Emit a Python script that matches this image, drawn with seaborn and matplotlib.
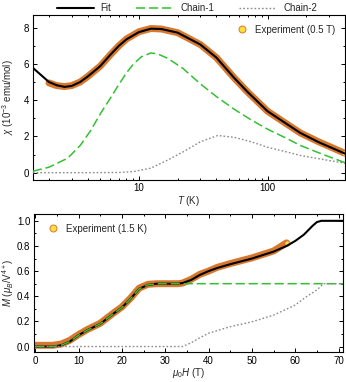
import numpy as np
import pandas as pd
import seaborn as sns
import matplotlib.pyplot as plt
from matplotlib.lines import Line2D
from matplotlib.ticker import MultipleLocator, LogLocator, NullFormatter

# 磁化率 chi(T)
t_fit = [1.5, 2.0, 2.3, 2.64, 3.0, 3.5, 4.0, 5.0, 6.0, 7.0, 8.0, 10.0, 12.4, 15.0,
         20.0, 30.0, 40.0, 55.0, 70.0, 100.0, 140.0, 180.0, 250.0, 320.0, 400.0]
chi_fit = [5.78, 5.0, 4.82, 4.73, 4.78, 5.0, 5.3, 5.87, 6.5, 7.0, 7.35, 7.75, 7.94, 7.92,
           7.72, 7.07, 6.35, 5.23, 4.45, 3.39, 2.7, 2.19, 1.68, 1.35, 1.05]
t_c1 = [1.5, 2.0, 2.8, 3.5, 4.2, 5.07, 6.0, 6.83, 8.0, 9.1, 10.5, 12.4, 14.0, 16.8,
        22.0, 30.0, 40.0, 55.0, 75.0, 100.0, 140.0, 180.0, 260.0, 400.0]
chi_c1 = [0.08, 0.3, 0.8, 1.5, 2.3, 3.3, 4.1, 4.75, 5.5, 6.0, 6.4, 6.6, 6.55, 6.3,
          5.75, 4.9, 4.2, 3.5, 2.9, 2.4, 1.9, 1.5, 1.05, 0.55]
t_c2 = [1.5, 4.0, 7.0, 9.1, 12.4, 16.8, 22.8, 30.0, 41.0, 55.0, 75.0, 100.0, 140.0,
        180.0, 260.0, 400.0]
chi_c2 = [0.0, 0.0, 0.01, 0.06, 0.25, 0.7, 1.2, 1.7, 2.05, 1.95, 1.7, 1.4, 1.15,
          0.95, 0.75, 0.52]
t_exp = [2.0, 2.3, 2.64, 3.0, 3.5, 4.0, 5.0, 6.0, 7.0, 8.0, 10.0, 12.4, 15.0,
         20.0, 30.0, 40.0, 55.0, 70.0, 100.0, 140.0, 180.0, 250.0, 320.0, 390.0]
chi_exp = [4.95, 4.8, 4.75, 4.8, 5.0, 5.3, 5.87, 6.5, 7.0, 7.37, 7.77, 7.95, 7.92,
           7.72, 7.07, 6.35, 5.23, 4.45, 3.39, 2.7, 2.19, 1.7, 1.37, 1.1]

# 磁化 M(H)
h_fit = [0, 4, 6, 8, 10, 12, 15, 18, 20, 22, 24, 26, 28, 30, 33, 34, 36, 38, 40, 42,
         45, 50, 55, 58, 60, 62, 64, 65, 66, 68, 71]
m_fit = [0.0, 0.0, 0.01, 0.04, 0.09, 0.13, 0.18, 0.26, 0.31, 0.38, 0.46, 0.49, 0.5,
         0.5, 0.5, 0.505, 0.53, 0.57, 0.6, 0.625, 0.655, 0.70, 0.755, 0.80, 0.84,
         0.89, 0.96, 0.99, 1.0, 1.0, 1.0]
h_c1 = [0, 4, 6, 8, 10, 12, 15, 18, 20, 22, 24, 26, 28, 30, 71]
m_c1 = [0.0, 0.0, 0.01, 0.04, 0.09, 0.13, 0.18, 0.26, 0.31, 0.38, 0.46, 0.49, 0.5,
        0.5, 0.5]
h_c2 = [0, 34, 36, 38, 40, 45, 50, 55, 60, 62.3, 65, 66.5, 71]
m_c2 = [0.0, 0.0, 0.03, 0.07, 0.106, 0.158, 0.197, 0.25, 0.33, 0.39, 0.45, 0.5, 0.5]
h_exp = [0, 4, 6, 8, 10, 12, 15, 18, 20, 22, 24, 26, 28, 30, 33, 34, 36, 38, 40, 42,
         45, 50, 55, 58]
m_exp = [0.01, 0.01, 0.02, 0.05, 0.095, 0.135, 0.185, 0.265, 0.315, 0.385, 0.465,
         0.495, 0.5, 0.5, 0.5, 0.505, 0.535, 0.575, 0.6, 0.63, 0.66, 0.705, 0.76, 0.825]

sns.set_theme(style="ticks")
FS = 7
plt.rcParams['font.family'] = ['Liberation Sans', 'DejaVu Sans']
plt.rcParams['font.size'] = FS
plt.rcParams['axes.labelsize'] = FS
plt.rcParams['xtick.labelsize'] = FS
plt.rcParams['ytick.labelsize'] = FS
plt.rcParams['legend.fontsize'] = FS
plt.rcParams['mathtext.fontset'] = 'custom'
plt.rcParams['mathtext.rm'] = 'Liberation Sans'
plt.rcParams['mathtext.it'] = 'Liberation Sans:italic'

ORANGE = "#d8782e"
YELLOW = "#ffe040"
GREEN = "#33c033"
GRAY = "#8c8c8c"

fig = plt.figure(figsize=(3.46, 3.82), dpi=100)
ax1 = fig.add_axes([0.095, 0.529, 0.902, 0.432])
ax2 = fig.add_axes([0.098, 0.078, 0.893, 0.362])


def draw_panel(ax, xe, ye, xf, yf, x1, y1, x2, y2):
    sns.lineplot(x=xe, y=ye, ax=ax, color=ORANGE, lw=5.0, solid_capstyle="round", zorder=1)
    ax.scatter(xe[-1:], ye[-1:], s=14, color=YELLOW, edgecolor=ORANGE, lw=0.6, zorder=2)
    sns.lineplot(x=xf, y=yf, ax=ax, color="black", lw=1.5, zorder=3)
    sns.lineplot(x=x1, y=y1, ax=ax, color=GREEN, lw=1.1, dashes=(6, 2.5), zorder=4)
    sns.lineplot(x=x2, y=y2, ax=ax, color=GRAY, lw=1.0, dashes=(1.2, 1.5), zorder=5)
    ax.tick_params(which="both", direction="in", top=True, right=True, width=0.7,
                   labelsize=FS, pad=2.5, colors="black")
    ax.tick_params(which="major", length=3)
    ax.tick_params(which="minor", length=1.6)
    for s in ax.spines.values():
        s.set_linewidth(0.8)
        s.set_color("black")


draw_panel(ax1, t_exp, chi_exp, t_fit, chi_fit, t_c1, chi_c1, t_c2, chi_c2)
ax1.set_xscale("log")
ax1.set_xlim(1.5, 400)
ax1.set_ylim(-0.4, 8.7)
ax1.yaxis.set_major_locator(MultipleLocator(2))
ax1.yaxis.set_minor_locator(MultipleLocator(1))
ax1.xaxis.set_minor_locator(LogLocator(base=10, subs=np.arange(2, 10)))
ax1.xaxis.set_minor_formatter(NullFormatter())
ax1.set_xticks([10, 100])
ax1.set_xticklabels(["10", "100"])
ax1.set_xlabel(r"$T$ (K)", labelpad=0.5, fontsize=FS)
ax1.set_ylabel(r"$\chi$ (10$^{-3}$ emu/mol)", labelpad=6, fontsize=FS)

draw_panel(ax2, h_exp, m_exp, h_fit, m_fit, h_c1, m_c1, h_c2, m_c2)
ax2.set_xlim(-0.3, 71)
ax2.set_ylim(-0.045, 1.055)
ax2.xaxis.set_major_locator(MultipleLocator(10))
ax2.xaxis.set_minor_locator(MultipleLocator(5))
ax2.yaxis.set_major_locator(MultipleLocator(0.2))
ax2.yaxis.set_minor_locator(MultipleLocator(0.1))
ax2.yaxis.set_major_formatter(plt.FormatStrFormatter("%.1f"))
ax2.set_xlabel(r"$\mu_0H$ (T)", labelpad=0.5, fontsize=FS)
ax2.set_ylabel(r"$M$ ($\mu_B$/V$^{4+}$)", labelpad=1, fontsize=FS)

exp_handle = lambda lab: Line2D([], [], ls="none", marker="o", ms=5, mfc=YELLOW,
                                mec=ORANGE, mew=0.7, label=lab)
ax1.legend(handles=[exp_handle("Experiment (0.5 T)")], loc="upper right", frameon=False,
           handletextpad=0.3, borderaxespad=0.6, fontsize=FS)
ax2.legend(handles=[exp_handle("Experiment (1.5 K)")], loc="upper left", frameon=False,
           handletextpad=0.3, borderaxespad=0.6, fontsize=FS)

top_handles = [
    Line2D([], [], color="black", lw=1.5, label="Fit"),
    Line2D([], [], color=GREEN, lw=1.1, dashes=(6, 2.5), label="Chain-1"),
    Line2D([], [], color=GRAY, lw=1.0, dashes=(1.2, 1.5), label="Chain-2"),
]
fig.legend(handles=top_handles, loc="upper center", bbox_to_anchor=(0.54, 1.015), ncol=3,
           frameon=False, handlelength=3.8, columnspacing=2.6, handletextpad=0.7,
           fontsize=FS)

plt.savefig("out.png", dpi=100)
